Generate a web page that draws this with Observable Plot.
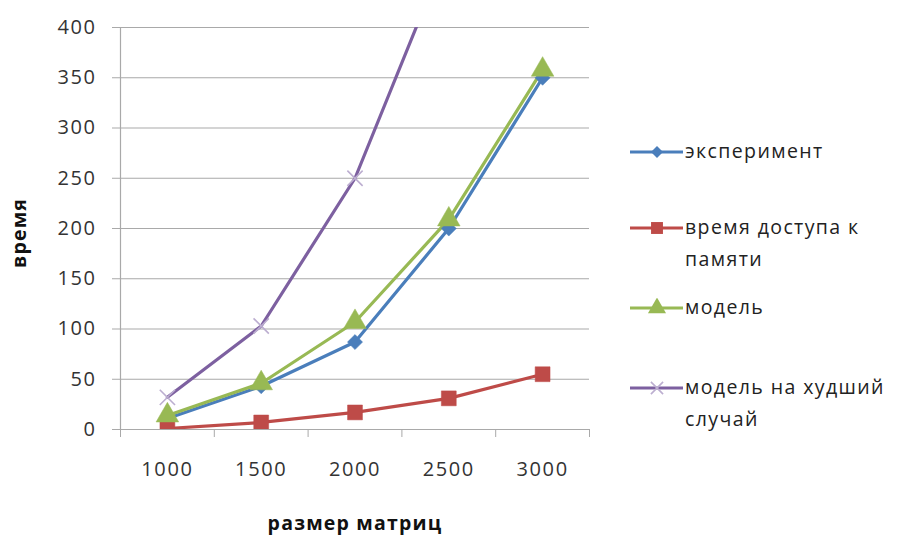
<!DOCTYPE html>
<html>
<head>
<meta charset="utf-8">
<script src="https://cdn.jsdelivr.net/npm/d3@7"></script>
<script src="https://cdn.jsdelivr.net/npm/@observablehq/plot@0.6"></script>
<style>
  html, body { margin: 0; padding: 0; background: #fff; }
  #chart { position: relative; width: 904px; height: 536px; overflow: hidden; font-family: "Open Sans", sans-serif; }
  #chart svg.plot { position: absolute; left: 0; top: 0; }
  .title { position: absolute; font-weight: bold; color: #111; font-size: 19.5px; letter-spacing: 1.2px; white-space: nowrap; }
  .ytitle { left: 18px; top: 233px; transform: translate(-50%, -50%) rotate(-90deg); }
  .xtitle { left: 355px; top: 522px; transform: translate(-50%, -50%); }
  .legend { position: absolute; left: 628px; top: 0; }
  .item { position: absolute; left: 0; display: flex; align-items: flex-start; white-space: nowrap; }
  .item svg { flex: none; margin-top: 2px; }
  .item span { font-size: 19.5px; color: #222; line-height: 32px; margin-top: -5px; margin-left: 1px; letter-spacing: 1.4px; }
</style>
</head>
<body>
<div id="chart"></div>
<script>
// Matrix sizes and measured/modelled times
const sizes = [1000, 1500, 2000, 2500, 3000];
const experiment = [11, 43, 87, 200, 350];
const memoryAccess = [1, 7, 17, 31, 55];
const model = [14, 46, 107, 209, 358];
const worstCase = [32, 103, 250, 480, 850];

const seriesNames = ["эксперимент", "время доступа к памяти", "модель", "модель на худший случай"];
const seriesColors = ["#4a7ebb", "#be4b48", "#98b954", "#7d60a0"];
const seriesSymbols = ["diamond2", "square", "triangle", "times"];
const yTicks = [0, 50, 100, 150, 200, 250, 300, 350, 400];

const columns = [experiment, memoryAccess, model, worstCase];
const rows = columns.flatMap((vals, s) =>
  sizes.map((size, i) => ({size, time: vals[i], series: seriesNames[s]}))
);

// Category bands: one band per matrix size, boundaries half a step either side
const step = sizes[1] - sizes[0];
const xDomain = [sizes[0] - step / 2, sizes[sizes.length - 1] + step / 2];
const boundaries = d3.range(xDomain[0], xDomain[1] + 1, step);

const gray = "#a9a9a9";
const markerR = {diamond2: 6.8, square: 8.4, triangle: 8.4, times: 7};

const plot = Plot.plot({
  width: 904,
  height: 536,
  marginLeft: 120,
  marginRight: 315,
  marginTop: 27,
  marginBottom: 107,
  style: {fontFamily: "Open Sans, sans-serif", fontSize: "20px", color: "#333", background: "transparent", letterSpacing: "1.6px"},
  x: {type: "linear", domain: xDomain},
  y: {domain: [0, 400]},
  color: {domain: seriesNames, range: seriesColors},
  marks: [
    Plot.axisY(yTicks, {tickSize: 8, tickPadding: 16, stroke: gray, tickFormat: d => d, label: null, strokeOpacity: 1, fill: "#333"}),
    Plot.gridY(yTicks, {stroke: gray, strokeOpacity: 1, strokeWidth: 1.2}),
    Plot.ruleX([xDomain[0]], {stroke: gray, strokeWidth: 1.2}),
    Plot.axisX(boundaries, {tickSize: 8, stroke: gray, strokeOpacity: 1, tickFormat: () => "", label: null}),
    Plot.axisX(sizes, {tickSize: 0, tickPadding: 32, tickFormat: d => String(d), label: null, fill: "#333"}),
    Plot.line(rows, {x: "size", y: "time", z: "series", stroke: "series", strokeWidth: 3.2, clip: true}),
    ...seriesNames.map((name, s) => {
      const sym = seriesSymbols[s];
      const data = rows.filter(d => d.series === name);
      return sym === "times"
        ? Plot.dot(data, {x: "size", y: "time", symbol: sym, r: markerR[sym], stroke: "#bcaed0", strokeWidth: 1.6, fill: "none", clip: true})
        : Plot.dot(data, {x: "size", y: "time", symbol: sym, r: markerR[sym], fill: seriesColors[s], stroke: seriesColors[s], strokeWidth: 0.5, clip: true});
    })
  ]
});
plot.classList.add("plot");

const chart = document.getElementById("chart");
chart.appendChild(plot);

// Axis titles
const yTitle = document.createElement("div");
yTitle.className = "title ytitle";
yTitle.textContent = "время";
chart.appendChild(yTitle);

const xTitle = document.createElement("div");
xTitle.className = "title xtitle";
xTitle.textContent = "размер матриц";
chart.appendChild(xTitle);

// Legend: line with marker, then wrapped label
const legendLabels = [["эксперимент"], ["время доступа к", "памяти"], ["модель"], ["модель на худший", "случай"]];
const legendTops = [140, 216, 296, 376];
const legend = d3.select(chart).append("div").attr("class", "legend");
const symbolTypes = {diamond2: d3.symbolDiamond2, square: d3.symbolSquare, triangle: d3.symbolTriangle, times: d3.symbolTimes};
seriesNames.forEach((name, s) => {
  const item = legend.append("div").attr("class", "item").style("top", legendTops[s] + "px");
  const svg = item.append("svg").attr("width", 56).attr("height", 20);
  svg.append("line").attr("x1", 2).attr("x2", 55).attr("y1", 10).attr("y2", 10)
    .attr("stroke", seriesColors[s]).attr("stroke-width", 3.2);
  const sym = seriesSymbols[s];
  const r = markerR[sym] * 0.8;
  const path = d3.symbol(symbolTypes[sym], Math.PI * r * r)();
  const p = svg.append("path").attr("d", path).attr("transform", "translate(29,10)");
  if (sym === "times") p.attr("fill", "none").attr("stroke", "#bcaed0").attr("stroke-width", 1.6);
  else p.attr("fill", seriesColors[s]);
  item.append("span").html(legendLabels[s].join("<br>"));
});
</script>
</body>
</html>
